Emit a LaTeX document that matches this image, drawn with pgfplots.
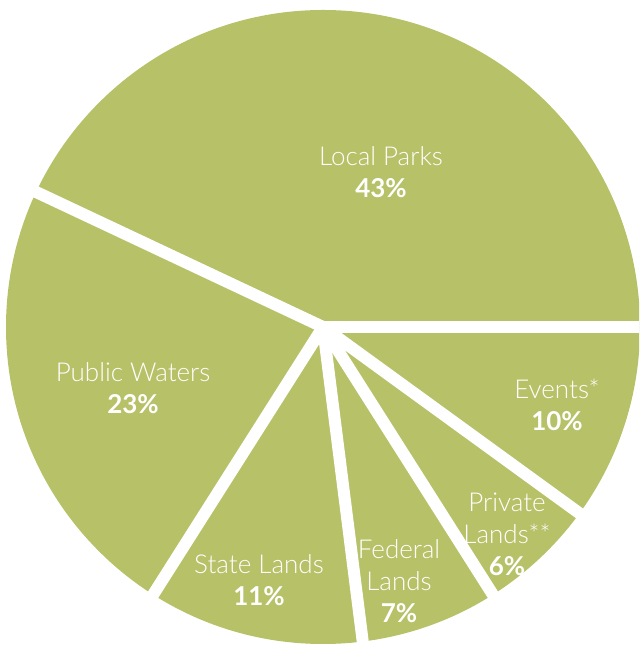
\documentclass[border=0pt]{standalone}
\usepackage{pgfplots}
\usepackage{pgfplotstable}
\pgfplotsset{compat=1.18}
\usepackage{fontspec}
\setmainfont{Lato}
\newfontfamily\lightfont{Lato Light}

\definecolor{piegreen}{RGB}{183,193,104}
\tikzset{lbl/.style={text=white, align=center, font=\fontsize{13}{16}\selectfont}}

% share of each place, percent, counter-clockwise from east
\pgfplotstableread[col sep=comma]{
label,value
Local Parks,43
Public Waters,23
State Lands,11
Federal Lands,7
Private Lands,6
Events,10
}\piedata

\begin{document}
\begin{tikzpicture}
\begin{axis}[
  hide axis,
  scale only axis,
  x=0.5pt, y=0.5pt,
  xmin=0, xmax=639,
  ymin=-646, ymax=0,
  clip=true,
]
  \def\cx{323}
  \def\cy{-327}
  \fill[piegreen] (axis cs:\cx,\cy) circle[radius=317];

  % white gaps between the slices
  \def\cum{0}
  \pgfplotsforeachungrouped \i in {0,...,5}{
    \pgfplotstablegetelem{\i}{value}\of\piedata
    \pgfmathsetmacro\ex{\cx+360*cos(\cum)}
    \pgfmathsetmacro\ey{\cy+360*sin(\cum)}
    \edef\temp{\noexpand\addplot[white, line width=6pt, forget plot] coordinates {(\cx,\cy) (\ex,\ey)};}
    \temp
    \pgfmathsetmacro\cum{\cum+3.6*\pgfplotsretval}
  }

  \node[lbl] at (axis cs:381,-172) {{\lightfont Local Parks}\\\textbf{43\%}};
  \node[lbl] at (axis cs:133,-388) {{\lightfont Public Waters}\\\textbf{23\%}};
  \node[lbl] at (axis cs:557,-405) {{\lightfont Events*}\\\textbf{10\%}};
  \node[lbl] at (axis cs:507,-534) {{\lightfont Private}\\{\lightfont Lands**}\\\textbf{6\%}};
  \node[lbl] at (axis cs:259,-580) {{\lightfont State Lands}\\\textbf{11\%}};
  \node[lbl] at (axis cs:399,-581) {{\lightfont Federal}\\{\lightfont Lands}\\\textbf{7\%}};

  \coordinate (bl) at (axis cs:0,-646);
  \coordinate (tr) at (axis cs:639,0);
\end{axis}
\pgfresetboundingbox
\useasboundingbox (bl) rectangle (tr);
\end{tikzpicture}
\end{document}
